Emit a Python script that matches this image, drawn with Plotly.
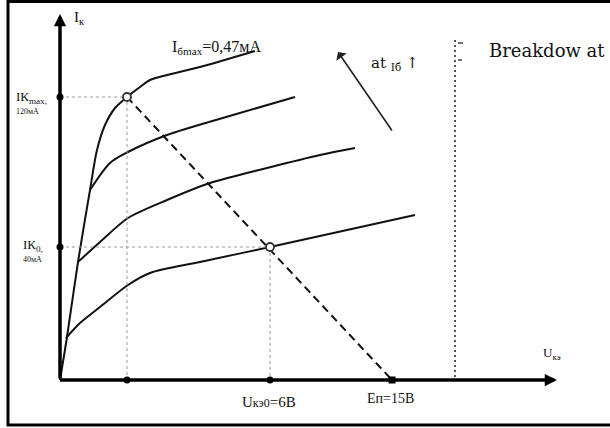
import plotly.graph_objects as go

# ---- data (schematic diagram units; origin of the U-I axes at 0,0) ----
knee_u = [0, 7, 18, 30, 37, 45, 55, 67, 80, 90, 107, 140, 195]
knee_i = [0, 43, 118, 190, 230, 255, 272, 283, 293, 300, 305, 313, 329]

ib1_u = [6, 20, 40, 68, 90, 140, 210, 355]
ib1_i = [42, 57, 73, 95, 107, 118, 133, 165]

ib2_u = [18, 40, 68, 107, 150, 207, 260, 295]
ib2_i = [118, 138, 162, 180, 197, 212, 225, 232]

ib3_u = [30, 50, 68, 107, 173, 235]
ib3_i = [190, 217, 228, 245, 265, 283]

load_u = [67, 332]
load_i = [283, 0]

point_u = [67, 210]          # Iкmax point, operating point
point_i = [283, 133]

u_ticks = [67, 210, 332]
i_ticks = [283, 133]
u_breakdown = 395

fig = go.Figure()

line_style = dict(color="#111111", width=2, shape="spline", smoothing=0.8)
for u, i in [(knee_u, knee_i), (ib1_u, ib1_i), (ib2_u, ib2_i), (ib3_u, ib3_i)]:
    fig.add_trace(go.Scatter(x=u, y=i, mode="lines", line=line_style, hoverinfo="skip"))

# guide lines
for u, i in zip(point_u, point_i):
    fig.add_trace(go.Scatter(x=[0, u, u], y=[i, i, 0], mode="lines",
                             line=dict(color="#9a9a9a", width=1, dash="dot"), hoverinfo="skip"))

# load line
fig.add_trace(go.Scatter(x=load_u, y=load_i, mode="lines",
                         line=dict(color="#111111", width=2, dash="8px,5px"), hoverinfo="skip"))

# breakdown line
fig.add_trace(go.Scatter(x=[u_breakdown, u_breakdown], y=[3, 340], mode="lines",
                         line=dict(color="#555555", width=2, dash="2px,3px"), hoverinfo="skip"))

# axes
fig.add_annotation(x=0, y=366, ax=0, ay=0, xref="x", yref="y", axref="x", ayref="y",
                   text="", showarrow=True, arrowhead=2, arrowsize=0.7, arrowwidth=3.5,
                   arrowcolor="#000000", standoff=0, startstandoff=0)
fig.add_annotation(x=497, y=0, ax=-1.5, ay=0, xref="x", yref="y", axref="x", ayref="y",
                   text="", showarrow=True, arrowhead=2, arrowsize=0.7, arrowwidth=3.5,
                   arrowcolor="#000000", standoff=0, startstandoff=0)

# tick dots
fig.add_trace(go.Scatter(x=[0] * len(i_ticks), y=i_ticks, mode="markers",
                         marker=dict(color="#000", size=7), hoverinfo="skip"))
fig.add_trace(go.Scatter(x=u_ticks[:2], y=[0, 0], mode="markers",
                         marker=dict(color="#000", size=7), hoverinfo="skip"))
fig.add_trace(go.Scatter(x=u_ticks[2:], y=[0], mode="markers",
                         marker=dict(color="#000", size=7, symbol="square"), hoverinfo="skip"))

# operating points
fig.add_trace(go.Scatter(x=point_u, y=point_i, mode="markers",
                         marker=dict(color="white", size=8, line=dict(color="#333", width=1.8)),
                         hoverinfo="skip"))

# Ib increase arrow
fig.add_annotation(x=278, y=328, ax=333, ay=248, xref="x", yref="y", axref="x", ayref="y",
                   text="", showarrow=True, arrowhead=1, arrowsize=1.3, arrowwidth=1.6,
                   arrowcolor="#222", standoff=0)

serif = "Liberation Serif"
def txt(x, y, s, size, anchor="left", font=serif, color="#111"):
    fig.add_annotation(x=x, y=y, xref="x", yref="y", text=s, showarrow=False,
                       xanchor=anchor, yanchor="middle",
                       font=dict(family=font, size=size, color=color))

txt(12, 362, "I<sub>к</sub>", 15)
txt(110, 333, "I<sub>бmax</sub>=0,47мА", 16)
txt(-46, 283, "IК<sub>max,</sub>", 13)
txt(-46, 269, "120мА", 8)
txt(-39, 135, "IК<sub>0,</sub>", 13)
txt(-39, 121, "40мА", 8)
txt(180, -22, "U<span style='font-size:12px'>кэ0</span>=6В", 15)
txt(305, -18, "Eп=15В", 14)
txt(481, 27, "U<sub>кэ</sub>", 13)
txt(309, 317, "at <sub>Iб</sub> ↑", 15, font="DejaVu Serif")
txt(427, 330, "Breakdow at", 18, font="DejaVu Serif")

# small marks near breakdown line top
fig.add_shape(type="line", x0=398, x1=403, y0=337, y1=337, line=dict(color="#444", width=1.5))
fig.add_shape(type="line", x0=398, x1=402, y0=320, y1=320, line=dict(color="#444", width=1.5))

# frame
fig.add_shape(type="rect", x0=-52, x1=560, y0=378.5, y1=-45, line=dict(color="#000", width=3))

fig.update_layout(
    width=610, height=428, margin=dict(l=0, r=0, t=0, b=0),
    paper_bgcolor="white", plot_bgcolor="white", showlegend=False,
    xaxis=dict(range=[-60, 550], visible=False, fixedrange=True),
    yaxis=dict(range=[-48, 380], visible=False, fixedrange=True),
)
fig.write_html("out.html", config={"displayModeBar": False},
               post_script="document.body.style.margin='0';document.body.style.overflow='hidden';")
